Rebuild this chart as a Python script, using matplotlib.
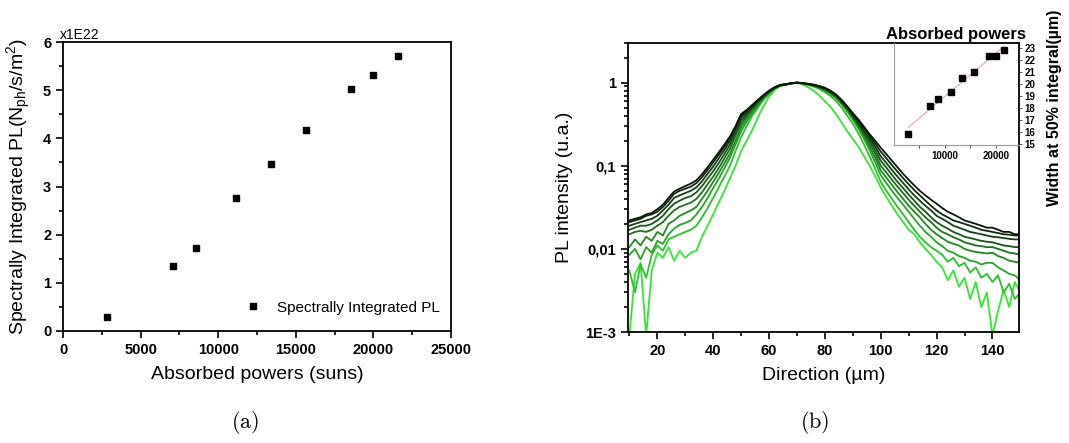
import numpy as np
import matplotlib.pyplot as plt
from matplotlib.ticker import MultipleLocator, FixedLocator, FixedFormatter, LogLocator, NullFormatter

plt.rcParams['font.family'] = ['Liberation Sans', 'DejaVu Sans']
plt.rcParams['mathtext.fontset'] = 'custom'
plt.rcParams['mathtext.rm'] = 'Liberation Sans'
plt.rcParams['mathtext.it'] = 'Liberation Sans:italic'
plt.rcParams['mathtext.bf'] = 'Liberation Sans:bold'

# (a) spectrally integrated PL vs absorbed power
powers = [2830, 7060, 8580, 11140, 13390, 15660, 18560, 20000, 21570]
pl_int = [0.30, 1.34, 1.73, 2.76, 3.46, 4.17, 5.02, 5.32, 5.70]

# inset of (b): width at 50% integral
width50 = [15.9, 18.2, 18.75, 19.3, 20.5, 21.0, 22.3, 22.3, 22.85]

# (b) normalised PL profiles, x = 10, 12, ..., 150 um
direction = list(range(10, 151, 2))

# highest power (darkest) first
prof0 = [.022, .023, .024, .026, .027, .030, .034, .041, .049, .053, .057, .061, .067, .079, .096, .118,
         .145, .180, .225, .300, .420, .470, .540, .620, .710, .800, .880, .940, .960, .985, 1.00,
         .990, .970, .945, .910, .870, .800, .720, .620, .520, .430, .360, .295, .240, .200, .165,
         .138, .115, .096, .080, .068, .058, .050, .044, .039, .035, .031, .028, .026, .024, .022,
         .021, .020, .019, .018, .018, .017, .016, .016, .015, .015]
prof1 = [.021, .022, .023, .025, .026, .028, .032, .038, .046, .050, .053, .056, .062, .073, .089, .110,
         .136, .170, .215, .285, .400, .455, .525, .610, .700, .795, .875, .935, .955, .985, 1.00,
         .990, .965, .940, .905, .860, .790, .710, .610, .510, .420, .350, .285, .230, .185, .148,
         .123, .102, .085, .071, .060, .051, .044, .038, .033, .029, .026, .024, .022, .021, .020,
         .019, .018, .017, .0165, .016, .0155, .015, .0148, .0145, .0145]
prof2 = [.019, .020, .021, .022, .023, .025, .029, .034, .041, .044, .047, .050, .055, .065, .080, .098,
         .123, .155, .200, .270, .380, .440, .510, .600, .690, .790, .870, .930, .955, .985, 1.00,
         .985, .960, .935, .900, .850, .780, .700, .600, .500, .410, .335, .270, .215, .170, .130,
         .108, .089, .074, .062, .052, .044, .038, .033, .029, .025, .023, .021, .019, .018, .017,
         .016, .0155, .015, .0145, .014, .0138, .0135, .0132, .013, .013]
prof3 = [.017, .018, .019, .019, .020, .022, .025, .030, .035, .038, .041, .043, .048, .057, .070, .086,
         .108, .138, .180, .250, .350, .420, .500, .590, .680, .780, .870, .930, .950, .980, 1.00,
         .985, .960, .930, .890, .840, .770, .690, .590, .490, .400, .320, .255, .200, .155, .115,
         .095, .078, .064, .054, .045, .038, .032, .028, .024, .021, .019, .0175, .016, .015, .014,
         .0135, .013, .0125, .0122, .012, .0115, .011, .0108, .0105, .0105]
prof4 = [.015, .016, .0165, .016, .017, .019, .021, .025, .029, .032, .034, .036, .040, .048, .060, .074,
         .094, .122, .160, .230, .320, .400, .480, .570, .670, .770, .860, .925, .950, .980, 1.00,
         .980, .955, .925, .880, .830, .760, .680, .580, .480, .390, .310, .240, .185, .140, .100,
         .083, .068, .056, .047, .039, .033, .028, .024, .021, .018, .016, .015, .0138, .013, .012,
         .0115, .011, .0108, .0105, .0105, .010, .0095, .009, .0088, .0085]
prof5 = [.0105, .013, .011, .014, .0125, .016, .0145, .020, .022, .025, .027, .029, .032, .040, .050, .064,
         .082, .107, .140, .200, .290, .370, .460, .550, .660, .760, .860, .920, .950, .980, 1.00,
         .980, .950, .920, .870, .820, .750, .670, .570, .470, .380, .300, .230, .170, .125, .088,
         .072, .059, .048, .040, .033, .028, .024, .020, .017, .015, .0135, .0122, .0115, .011, .010,
         .0095, .0092, .009, .0088, .009, .0082, .0078, .0072, .007, .0068]
prof6 = [.0085, .0100, .0075, .0105, .0090, .0125, .0115, .0150, .0175, .0195, .0205, .022, .026, .032, .041, .054,
         .070, .093, .125, .180, .260, .340, .430, .530, .640, .750, .850, .920, .950, .975, 1.00,
         .975, .945, .910, .860, .800, .730, .650, .550, .450, .360, .280, .210, .155, .110, .077,
         .062, .050, .041, .034, .028, .023, .019, .016, .014, .012, .0108, .0095, .009, .0082, .0078,
         .0072, .0070, .0065, .0068, .0068, .0060, .0055, .0050, .0048, .0042]
prof7 = [.0055, .0030, .0065, .0045, .0085, .011, .0095, .013, .014, .015, .016, .017, .019, .024, .031, .041,
         .055, .074, .100, .150, .220, .300, .400, .500, .620, .730, .840, .910, .945, .970, 1.00,
         .970, .940, .900, .840, .770, .690, .600, .500, .400, .320, .245, .180, .130, .092, .064,
         .050, .040, .032, .026, .021, .017, .014, .012, .0105, .0095, .0085, .0070, .0078, .0062, .0068,
         .0052, .0060, .0045, .0050, .0040, .0048, .0030, .0038, .0025, .0030]
prof8 = [.0009, .0050, .0068, .0009, .0055, .0090, .0078, .0105, .0072, .0095, .0078, .0090, .0095, .014, .019, .026,
         .036, .050, .070, .100, .150, .200, .270, .380, .520, .680, .820, .920, .960, .980, 1.00,
         .950, .880, .800, .700, .600, .510, .420, .330, .260, .210, .170, .130, .100, .075, .055,
         .042, .033, .026, .021, .017, .015, .012, .010, .0085, .0070, .0060, .0042, .0055, .0035, .0045,
         .0025, .0040, .0020, .0030, .0009, .0018, .0032, .0020, .0040, .0030]

profiles = [prof0, prof1, prof2, prof3, prof4, prof5, prof6, prof7, prof8]
colors = ['#0b160b', '#0f2a0f', '#143f14', '#185718', '#1c701c', '#208a20', '#25a525', '#2ac22a', '#33e633']

fig = plt.figure(figsize=(10.69, 4.43), dpi=100)
W, H = 1069, 443

def style(ax):
    for s in ax.spines.values():
        s.set_linewidth(1.3)
    ax.tick_params(which='both', direction='out', width=1.2, labelsize=10.5)
    ax.tick_params(which='major', length=5)
    ax.tick_params(which='minor', length=3)
    for lab in ax.get_xticklabels() + ax.get_yticklabels():
        lab.set_fontweight('bold')

# ---- (a)
axl = fig.add_axes([63 / W, 1 - 331 / H, 388 / W, 289 / H])
axl.plot(powers, pl_int, 's', color='black', ms=5, label='Spectrally Integrated PL')
axl.set_xlim(0, 25000)
axl.set_ylim(0, 6)
axl.xaxis.set_major_locator(MultipleLocator(5000))
axl.xaxis.set_minor_locator(MultipleLocator(2500))
axl.yaxis.set_major_locator(MultipleLocator(1))
axl.yaxis.set_minor_locator(MultipleLocator(0.5))
style(axl)
axl.text(-0.008, 1.0, 'x1E22', transform=axl.transAxes, ha='left', va='bottom', fontsize=10)
axl.set_xlabel('Absorbed powers (suns)', fontsize=14)
axl.set_ylabel(r'Spectrally Integrated PL(N$_{\mathrm{ph}}$/s/m$^{2}$)', fontsize=14)
axl.xaxis.set_label_coords(0.5, -0.12)
axl.yaxis.set_label_coords(-0.078, 0.5)
axl.legend(loc='lower right', bbox_to_anchor=(1.0, 0.02), frameon=False, fontsize=11,
           handletextpad=0.6, borderaxespad=0.3)

# ---- (b)
axr = fig.add_axes([628 / W, 1 - 332 / H, 391 / W, 289 / H])
for prof, col in list(zip(profiles, colors))[::-1]:
    axr.plot(direction, prof, color=col, lw=1.3)
axr.set_yscale('log')
axr.set_xlim(9.5, 149.5)
axr.set_ylim(1e-3, 3)
axr.xaxis.set_major_locator(MultipleLocator(20))
axr.xaxis.set_minor_locator(MultipleLocator(10))
axr.yaxis.set_major_locator(FixedLocator([1e-3, 1e-2, 1e-1, 1]))
axr.yaxis.set_major_formatter(FixedFormatter(['1E-3', '0,01', '0,1', '1']))
axr.yaxis.set_minor_locator(LogLocator(base=10, subs=np.arange(2, 10)))
axr.yaxis.set_minor_formatter(NullFormatter())
style(axr)
axr.set_xlabel('Direction (µm)', fontsize=14)
axr.set_ylabel('PL intensity (u.a.)', fontsize=14)
axr.xaxis.set_label_coords(0.5, -0.12)
axr.yaxis.set_label_coords(-0.14, 0.5)

# inset
ins = axr.inset_axes([0.68, 0.647, 0.32, 0.353])
ins.set_facecolor('none')
ins.plot(powers, width50, 's', color='black', ms=4)
fit = np.polyfit(powers, width50, 1)
ends = np.array([powers[0], powers[-1]])
ins.plot(ends, np.polyval(fit, ends), color='#e9a3aa', lw=0.8, zorder=0)
ins.set_xlim(0, 24500)
ins.set_ylim(14.95, 23.4)
for side in ['top', 'right']:
    ins.spines[side].set_visible(False)
for side in ['left', 'bottom']:
    ins.spines[side].set_color('#9a9a9a')
    ins.spines[side].set_linewidth(0.8)
ins.yaxis.tick_right()
ins.yaxis.set_major_locator(MultipleLocator(1))
ins.xaxis.set_major_locator(FixedLocator([10000, 20000]))
ins.xaxis.set_minor_locator(FixedLocator([5000, 15000]))
ins.tick_params(which='both', direction='out', length=2.5, width=0.7, labelsize=7, pad=1.5,
                color='#555555')
for lab in ins.get_xticklabels() + ins.get_yticklabels():
    lab.set_fontweight('bold')
ins.set_title('Absorbed powers', fontsize=12, fontweight='bold', pad=3)
ins.yaxis.set_label_position('right')
ins.set_ylabel('Width at 50% integral(µm)', fontsize=11.5, fontweight='bold')
ins.yaxis.set_label_coords(1.22, 0.36)

# captions
fig.text(245 / W, 1 - 423 / H, r'$\mathrm{(a)}$', math_fontfamily='cm', fontsize=16,
         ha='center', va='center')
fig.text(815 / W, 1 - 423 / H, r'$\mathrm{(b)}$', math_fontfamily='cm', fontsize=16,
         ha='center', va='center')

fig.savefig('out.png', dpi=100)
